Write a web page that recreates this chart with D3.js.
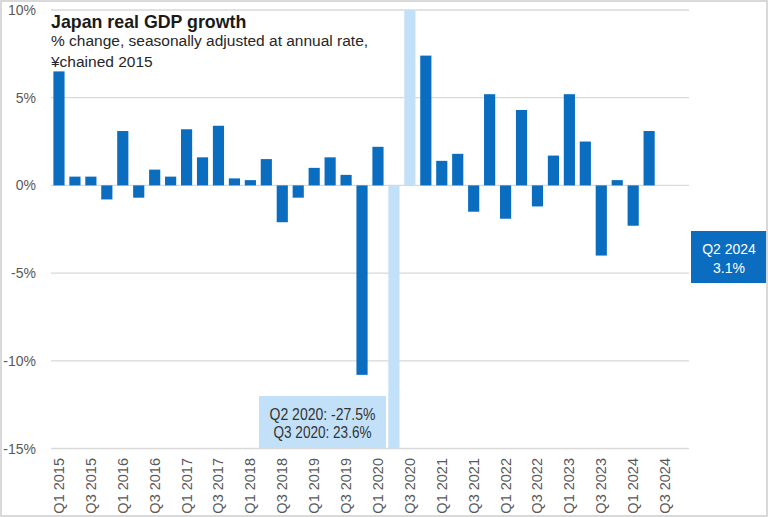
<!DOCTYPE html>
<html>
<head>
<meta charset="utf-8">
<script src="https://cdn.jsdelivr.net/npm/d3@7"></script>
<style>
  html, body { margin: 0; padding: 0; background: #fff; }
  svg { display: block; }
</style>
</head>
<body>
<div id="chart"></div>
<script>
// quarters Q1 2015 .. Q4 2024
var years = [2015, 2016, 2017, 2018, 2019, 2020, 2021, 2022, 2023, 2024];
var quarters = [];
years.forEach(function(y) {
  [1, 2, 3, 4].forEach(function(q) { quarters.push("Q" + q + " " + y); });
});

// % change, seasonally adjusted at annual rate (null = not yet published)
var growth = [
  6.5, 0.5, 0.5, -0.8,
  3.1, -0.7, 0.9, 0.5,
  3.2, 1.6, 3.4, 0.4,
  0.3, 1.5, -2.1, -0.7,
  1.0, 1.6, 0.6, -10.8,
  2.2, -27.5, 23.6, 7.4,
  1.4, 1.8, -1.5, 5.2,
  -1.9, 4.3, -1.2, 1.7,
  5.2, 2.5, -4.0, 0.3,
  -2.3, 3.1, null, null
];

// quarters shown in the light colour (off the scale)
var outliers = ["Q2 2020", "Q3 2020"];

var yTicks = [-15, -10, -5, 0, 5, 10];

var width = 768, height = 517;

var svg = d3.select("#chart")
  .append("svg")
  .attr("width", width)
  .attr("height", height);

var x = d3.scaleBand()
  .domain(quarters)
  .range([51, 689])
  .paddingInner(0.3)
  .paddingOuter(0.15);

var y = d3.scaleLinear()
  .domain([-15, 10])
  .range([448.5, 10])
  .clamp(true);

// gridlines
svg.append("g")
  .selectAll("line")
  .data(yTicks)
  .enter()
  .append("line")
  .attr("x1", 51)
  .attr("x2", 689)
  .attr("y1", d => y(d))
  .attr("y2", d => y(d))
  .style("stroke", "#d9d9d9")
  .style("stroke-width", 1.3);

// y labels
svg.append("g")
  .selectAll("text")
  .data(yTicks)
  .enter()
  .append("text")
  .attr("x", 36)
  .attr("y", d => y(d) + 5)
  .attr("text-anchor", "end")
  .attr("font-family", "Liberation Sans, Arial, sans-serif")
  .attr("font-size", "14px")
  .attr("fill", "#595959")
  .text(d => d + "%");

// bars
var data = quarters.map(function(q, i) { return { q: q, v: growth[i] }; })
  .filter(d => d.v !== null);

svg.append("g")
  .selectAll("rect")
  .data(data)
  .enter()
  .append("rect")
  .attr("x", d => x(d.q))
  .attr("width", x.bandwidth())
  .attr("y", d => y(Math.max(0, d.v)))
  .attr("height", d => Math.abs(y(d.v) - y(0)))
  .style("fill", d => outliers.indexOf(d.q) >= 0 ? "#c2e0f8" : "#0a6dc0");

// x labels, every second quarter, rotated
svg.append("g")
  .selectAll("text")
  .data(quarters.filter((q, i) => i % 2 === 0))
  .enter()
  .append("text")
  .attr("transform", d => "translate(" + (x(d) + x.bandwidth() / 2 + 5) + ",458) rotate(-90)")
  .attr("text-anchor", "end")
  .attr("font-family", "Liberation Sans, Arial, sans-serif")
  .attr("font-size", "14.5px")
  .attr("fill", "#595959")
  .text(d => d);

// title
svg.append("text")
  .attr("x", 51)
  .attr("y", 27.5)
  .attr("font-family", "Liberation Sans, Arial, sans-serif")
  .attr("font-size", "17.8px")
  .attr("font-weight", "bold")
  .attr("fill", "#1a1a1a")
  .text("Japan real GDP growth");

svg.append("g")
  .selectAll("text")
  .data(["% change, seasonally adjusted at annual rate,", "¥chained 2015"])
  .enter()
  .append("text")
  .attr("x", 51)
  .attr("y", (d, i) => 46 + i * 20.5)
  .attr("font-family", "Liberation Sans, Arial, sans-serif")
  .attr("font-size", "15.5px")
  .attr("fill", "#262626")
  .text(d => d);

// annotation for off-scale quarters
var i2 = quarters.indexOf("Q2 2020"), i3 = quarters.indexOf("Q3 2020");
var note = svg.append("g");
note.append("rect")
  .attr("x", 259).attr("y", 396)
  .attr("width", 127).attr("height", 52)
  .style("fill", "#c2e0f8");
note.selectAll("text")
  .data([quarters[i2] + ": " + growth[i2] + "%", quarters[i3] + ": " + growth[i3] + "%"])
  .enter()
  .append("text")
  .attr("x", 322.5)
  .attr("y", (d, i) => 419.5 + i * 18)
  .attr("text-anchor", "middle")
  .attr("textLength", (d, i) => i === 0 ? 106 : 98)
  .attr("lengthAdjust", "spacingAndGlyphs")
  .attr("font-family", "Liberation Sans, Arial, sans-serif")
  .attr("font-size", "16px")
  .attr("fill", "#333")
  .text(d => d);

// latest value label
var last = data[data.length - 1];
var tag = svg.append("g");
tag.append("rect")
  .attr("x", 691).attr("y", 231)
  .attr("width", 76).attr("height", 52)
  .style("fill", "#0a6dc0");
tag.selectAll("text")
  .data([last.q, last.v + "%"])
  .enter()
  .append("text")
  .attr("x", 729)
  .attr("y", (d, i) => 253.5 + i * 19.5)
  .attr("text-anchor", "middle")
  .attr("font-family", "Liberation Sans, Arial, sans-serif")
  .attr("font-size", "14px")
  .attr("fill", "#fff")
  .text(d => d);

// chart border
svg.append("rect")
  .attr("x", 1).attr("y", 1)
  .attr("width", width - 2).attr("height", height - 2)
  .style("fill", "none")
  .style("stroke", "#d9d9d9")
  .style("stroke-width", 2);
</script>
</body>
</html>
